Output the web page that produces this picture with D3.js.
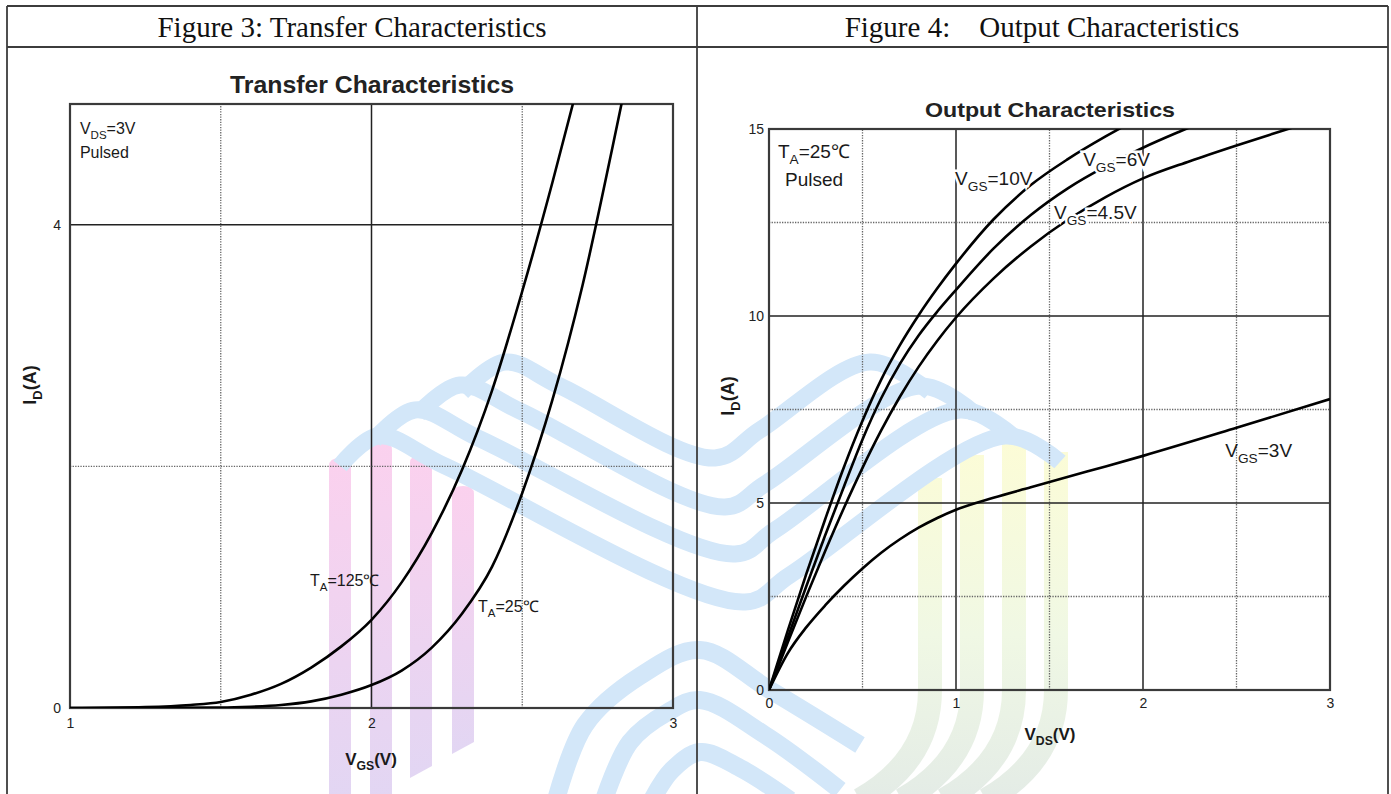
<!DOCTYPE html>
<html>
<head>
<meta charset="utf-8">
<script src="https://cdn.jsdelivr.net/npm/d3@7/dist/d3.min.js"></script>
<style>
  body { margin: 0; background: #fff; }
  svg { display: block; }
</style>
</head>
<body>
<div id="root"></div>
<script>
// ---- Figure 3: transfer characteristics, VDS = 3V, pulsed ----
const transferVgs125 = [1.0, 1.25, 1.4, 1.5, 1.6, 1.7, 1.8, 1.9, 2.0, 2.1, 2.2, 2.3, 2.4, 2.5, 2.6, 2.67, 2.72];
const transferId125 = [0, 0.008, 0.025, 0.05, 0.11, 0.2, 0.335, 0.51, 0.73, 1.04, 1.45, 1.97, 2.63, 3.45, 4.35, 5.02, 5.52];
const transferVgs25 = [1.0, 1.5, 1.6, 1.7, 1.8, 1.9, 2.0, 2.1, 2.2, 2.3, 2.4, 2.5, 2.6, 2.7, 2.8, 2.86];
const transferId25 = [0, 0.003, 0.01, 0.025, 0.055, 0.11, 0.19, 0.31, 0.5, 0.78, 1.17, 1.78, 2.55, 3.5, 4.65, 5.37];
const transferXTicks = [1, 2, 3];
const transferYTicks = [0, 4];

// ---- Figure 4: output characteristics, TA = 25C, pulsed ----
const outputVds10 = [0, 0.1, 0.2, 0.3, 0.4, 0.5, 0.6, 0.7, 0.8, 0.9, 1.0, 1.2, 1.4, 1.6, 1.8, 1.9, 2.0];
const outputId10 = [0, 1.58, 3.11, 4.56, 5.95, 7.2, 8.3, 9.22, 10.02, 10.74, 11.4, 12.58, 13.5, 14.2, 14.8, 15.08, 15.35];
const outputVds6 = [0, 0.1, 0.2, 0.3, 0.4, 0.5, 0.6, 0.7, 0.8, 0.9, 1.0, 1.2, 1.4, 1.6, 1.8, 2.0, 2.2, 2.3];
const outputId6 = [0, 1.4, 2.78, 4.13, 5.43, 6.7, 7.8, 8.72, 9.48, 10.12, 10.7, 11.8, 12.7, 13.42, 14.0, 14.5, 14.94, 15.15];
const outputVds45 = [0, 0.1, 0.2, 0.3, 0.4, 0.5, 0.6, 0.7, 0.8, 0.9, 1.0, 1.2, 1.4, 1.6, 1.8, 2.0, 2.25, 2.5, 2.75, 3.0];
const outputId45 = [0, 1.27, 2.51, 3.71, 4.86, 5.94, 6.94, 7.84, 8.64, 9.34, 9.96, 11.0, 11.86, 12.58, 13.18, 13.68, 14.14, 14.56, 14.96, 15.36];
const outputVds3 = [0, 0.1, 0.2, 0.3, 0.4, 0.5, 0.6, 0.7, 0.8, 0.9, 1.0, 1.2, 1.4, 1.7, 2.0, 2.5, 3.0];
const outputId3 = [0, 0.98, 1.68, 2.26, 2.78, 3.25, 3.67, 4.03, 4.34, 4.6, 4.82, 5.14, 5.42, 5.84, 6.26, 7.01, 7.78];
const outputXTicks = [0, 1, 2, 3];
const outputYTicks = [0, 5, 10, 15];

const W = 1391, H = 794;
const sans = "'Liberation Sans', Arial, Helvetica, sans-serif";
const serif = "'Liberation Serif', 'Times New Roman', serif";

const svg = d3.select("#root").append("svg")
  .attr("width", W).attr("height", H);
const defs = svg.append("defs");

// ---------- faint logo watermark behind the charts ----------
const pinkGrad = defs.append("linearGradient").attr("id", "pinkGrad")
  .attr("x1", 0).attr("y1", 0).attr("x2", 0).attr("y2", 1);
pinkGrad.append("stop").attr("offset", "0%").attr("stop-color", "#fbd1ee");
pinkGrad.append("stop").attr("offset", "100%").attr("stop-color", "#e2d6f3");

const yellowGrad = defs.append("linearGradient").attr("id", "yellowGrad")
  .attr("gradientUnits", "userSpaceOnUse")
  .attr("x1", 0).attr("y1", 440).attr("x2", 0).attr("y2", 794);
yellowGrad.append("stop").attr("offset", "0%").attr("stop-color", "#fcfcd6");
yellowGrad.append("stop").attr("offset", "55%").attr("stop-color", "#f0f8e4");
yellowGrad.append("stop").attr("offset", "100%").attr("stop-color", "#e4ece6");

const wm = svg.append("g").attr("class", "watermark");
const smooth = d3.line().curve(d3.curveCatmullRom.alpha(0.5));

// pink bars (left figure)
[[329, 458, 800], [370, 442, 800], [410, 455, 778], [452, 486, 754]].forEach(([x, top, bot], i) => {
  const w = 22;
  wm.append("path")
    .attr("d", `M${x},${bot} L${x},${top + 8} Q${x},${top} ${x + w / 2},${top} Q${x + w},${top} ${x + w},${top + 8} L${x + w},${bot - (i > 1 ? 12 : 0)} Z`)
    .attr("fill", "url(#pinkGrad)");
});

// yellow-green bars (right figure), bending to lower left at the bottom
[[918, 478], [960, 455], [1002, 443], [1044, 452]].forEach(([x, top]) => {
  const cx = x + 12;
  wm.append("path")
    .attr("d", `M${cx},${top} L${cx},690 Q${cx},760 ${cx - 70},800`)
    .attr("fill", "none").attr("stroke", "url(#yellowGrad)").attr("stroke-width", 24);
});

// blue wave bands
const bands = [
  [[462, 392], [505, 362], [560, 386], [715, 458], [760, 430], [870, 362], [930, 392]],
  [[418, 414], [460, 385], [520, 411], [725, 507], [765, 484], [920, 386], [975, 414]],
  [[374, 440], [415, 410], [480, 439], [735, 554], [775, 530], [960, 410], [1015, 438]],
  [[340, 466], [378, 436], [445, 466], [745, 602], [790, 575], [1005, 436], [1060, 462]]
];
bands.forEach(pts => {
  wm.append("path").attr("d", smooth(pts))
    .attr("fill", "none").attr("stroke", "#d3e7f9").attr("stroke-width", 17);
});
// lower blue arcs
const lowArcs = [
  [[556, 800], [585, 725], [640, 676], [700, 650], [770, 690], [860, 745]],
  [[604, 800], [630, 742], [668, 712], [700, 700], [765, 735], [840, 790]],
  [[652, 800], [672, 770], [700, 752], [740, 768], [790, 800]]
];
lowArcs.forEach(pts => {
  wm.append("path").attr("d", smooth(pts))
    .attr("fill", "none").attr("stroke", "#d3e7f9").attr("stroke-width", 18);
});

// ---------- table frame ----------
const frame = svg.append("g").attr("stroke", "#3c3c3c").attr("stroke-width", 1.8);
[[7, 6, 1388, 6], [7, 47, 1388, 47], [7, 6, 7, H], [697, 6, 697, H], [1388, 6, 1388, H]]
  .forEach(([x1, y1, x2, y2]) => frame.append("line")
    .attr("x1", x1).attr("y1", y1).attr("x2", x2).attr("y2", y2));

svg.append("text").attr("x", 352).attr("y", 37).attr("text-anchor", "middle")
  .attr("font-family", serif).attr("font-size", 29).attr("fill", "#111")
  .text("Figure 3: Transfer Characteristics");
svg.append("text").attr("x", 1042).attr("y", 37).attr("text-anchor", "middle")
  .attr("font-family", serif).attr("font-size", 29).attr("fill", "#111")
  .attr("xml:space", "preserve")
  .text("Figure 4:    Output Characteristics");

// text with subscripts: parts = [[text, isSub], ...]
function rich(g, x, y, parts, size, opts = {}) {
  const t = g.append("text").attr("x", x).attr("y", y)
    .attr("font-family", sans).attr("font-size", size)
    .attr("font-weight", opts.bold ? "bold" : null)
    .attr("fill", "#1a1a1a")
    .attr("text-anchor", opts.anchor || "start");
  if (opts.rotate) t.attr("transform", `rotate(-90,${x},${y})`);
  if (opts.halo) t.attr("stroke", "#fff").attr("stroke-width", 5).attr("paint-order", "stroke");
  let shifted = false;
  parts.forEach(([s, sub]) => {
    const ts = t.append("tspan").text(s);
    if (sub && !shifted) { ts.attr("font-size", size * 0.72).attr("dy", size * 0.32); shifted = true; }
    else if (!sub && shifted) { ts.attr("dy", -size * 0.32); shifted = false; }
  });
  return t;
}

function drawChart(cfg) {
  const { x, y, gridX, gridY, series, xTicks, yTicks, id } = cfg;
  const g = svg.append("g");
  const [x0, x1] = x.range(), [y0, y1] = y.range();

  // grid lines: solid on major values, dotted on the half steps
  g.append("g").selectAll("line").data(gridX).join("line")
    .attr("x1", d => x(d.v)).attr("x2", d => x(d.v))
    .attr("y1", y0).attr("y2", y1)
    .attr("stroke", d => d.solid ? "#222" : "#666")
    .attr("stroke-width", d => d.solid ? 1.5 : 1.3)
    .attr("stroke-dasharray", d => d.solid ? null : "1.3 1.3");
  g.append("g").selectAll("line").data(gridY).join("line")
    .attr("y1", d => y(d.v)).attr("y2", d => y(d.v))
    .attr("x1", x0).attr("x2", x1)
    .attr("stroke", d => d.solid ? "#222" : "#666")
    .attr("stroke-width", d => d.solid ? 1.5 : 1.3)
    .attr("stroke-dasharray", d => d.solid ? null : "1.3 1.3");

  g.append("rect").attr("x", x0).attr("y", y1)
    .attr("width", x1 - x0).attr("height", y0 - y1)
    .attr("fill", "none").attr("stroke", "#3a3a3a").attr("stroke-width", 2.2);

  defs.append("clipPath").attr("id", id).append("rect")
    .attr("x", x0).attr("y", y1).attr("width", x1 - x0).attr("height", y0 - y1);

  const line = d3.line().curve(d3.curveMonotoneX)
    .x(d => x(d[0])).y(d => y(d[1]));
  g.append("g").attr("clip-path", `url(#${id})`)
    .selectAll("path").data(series).join("path")
    .attr("d", d => line(d3.zip(d.xs, d.ys)))
    .attr("fill", "none").attr("stroke", "#000").attr("stroke-width", 2.6)
    .attr("stroke-linejoin", "round");

  const xAxis = g.append("g").attr("transform", `translate(0,${y0})`)
    .call(d3.axisBottom(x).tickValues(xTicks).tickSize(0).tickPadding(cfg.xPad).tickFormat(d3.format("d")));
  const yAxis = g.append("g").attr("transform", `translate(${x0},0)`)
    .call(d3.axisLeft(y).tickValues(yTicks).tickSize(0).tickPadding(cfg.yPad).tickFormat(d3.format("d")));
  [xAxis, yAxis].forEach(a => {
    a.select(".domain").remove();
    a.selectAll("text").attr("font-family", sans).attr("font-size", 14).attr("fill", "#222");
  });
  return g;
}

// ---------- Figure 3 ----------
const xT = d3.scaleLinear().domain([1, 3]).range([70, 673]);
const yT = d3.scaleLinear().domain([0, 5]).range([708, 104]);
const gT = drawChart({
  id: "clipT", x: xT, y: yT, xTicks: transferXTicks, yTicks: transferYTicks, xPad: 10, yPad: 9,
  gridX: [{ v: 1.5 }, { v: 2, solid: true }, { v: 2.5 }],
  gridY: [{ v: 2 }, { v: 4, solid: true }],
  series: [{ xs: transferVgs125, ys: transferId125 }, { xs: transferVgs25, ys: transferId25 }]
});
gT.append("text").attr("x", 372).attr("y", 93).attr("text-anchor", "middle")
  .attr("font-family", sans).attr("font-weight", "bold").attr("font-size", 23)
  .attr("textLength", 284).attr("lengthAdjust", "spacingAndGlyphs").attr("fill", "#222")
  .text("Transfer Characteristics");
rich(gT, 36, 385, [["I"], ["D", true], ["(A)"]], 18, { bold: true, rotate: true, anchor: "middle" });
rich(gT, 371, 765, [["V"], ["GS", true], ["(V)"]], 17, { bold: true, anchor: "middle" });
rich(gT, xT(1.033), yT(4.75), [["V"], ["DS", true], ["=3V"]], 16);
rich(gT, xT(1.033), yT(4.55), [["Pulsed"]], 16);
rich(gT, xT(1.796), yT(1.01), [["T"], ["A", true], ["=125℃"]], 16);
rich(gT, xT(2.353), yT(0.795), [["T"], ["A", true], ["=25℃"]], 16);

// ---------- Figure 4 ----------
const xO = d3.scaleLinear().domain([0, 3]).range([769, 1330]);
const yO = d3.scaleLinear().domain([0, 15]).range([690, 129]);
const gO = drawChart({
  id: "clipO", x: xO, y: yO, xTicks: outputXTicks, yTicks: outputYTicks, xPad: 8, yPad: 5,
  gridX: [{ v: 0.5 }, { v: 1, solid: true }, { v: 1.5 }, { v: 2, solid: true }, { v: 2.5 }],
  gridY: [{ v: 2.5 }, { v: 5, solid: true }, { v: 7.5 }, { v: 10, solid: true }, { v: 12.5 }],
  series: [
    { xs: outputVds10, ys: outputId10 }, { xs: outputVds6, ys: outputId6 },
    { xs: outputVds45, ys: outputId45 }, { xs: outputVds3, ys: outputId3 }
  ]
});
gO.append("text").attr("x", 1050).attr("y", 117).attr("text-anchor", "middle")
  .attr("font-family", sans).attr("font-weight", "bold").attr("font-size", 21)
  .attr("textLength", 250).attr("lengthAdjust", "spacingAndGlyphs").attr("fill", "#222")
  .text("Output Characteristics");
rich(gO, 734, 396, [["I"], ["D", true], ["(A)"]], 18, { bold: true, rotate: true, anchor: "middle" });
rich(gO, 1050, 740, [["V"], ["DS", true], ["(V)"]], 17, { bold: true, anchor: "middle" });
rich(gO, xO(0.048), yO(14.22), [["T"], ["A", true], ["=25℃"]], 19);
rich(gO, xO(0.086), yO(13.48), [["Pulsed"]], 19);
rich(gO, xO(0.995), yO(13.5), [["V"], ["GS", true], ["=10V"]], 19, { halo: true });
rich(gO, xO(1.68), yO(14.0), [["V"], ["GS", true], ["=6V"]], 19, { halo: true });
rich(gO, xO(1.524), yO(12.6), [["V"], ["GS", true], ["=4.5V"]], 19, { halo: true });
rich(gO, xO(2.44), yO(6.23), [["V"], ["GS", true], ["=3V"]], 19);
</script>
</body>
</html>
